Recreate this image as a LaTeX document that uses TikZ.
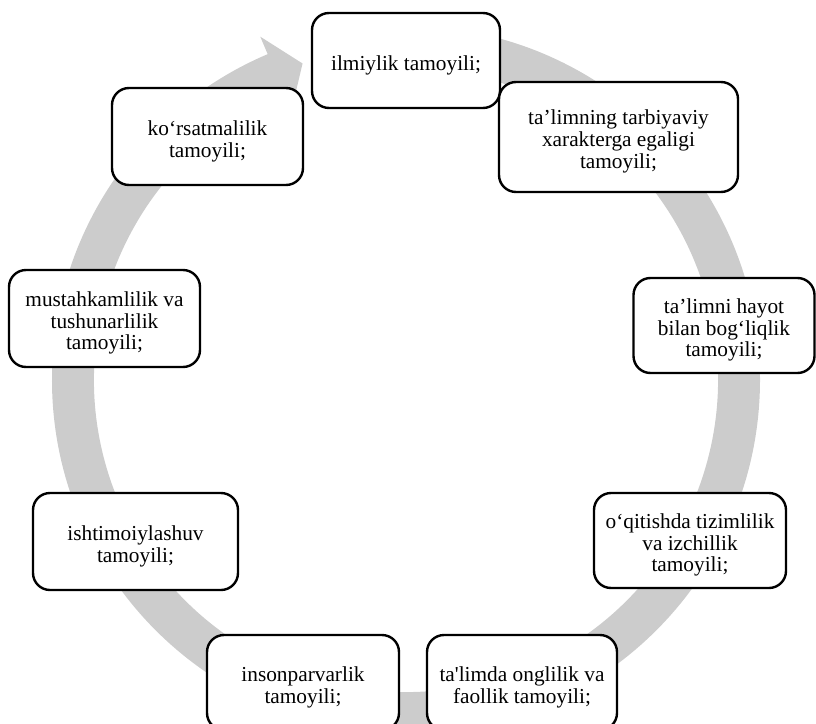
\documentclass[tikz,border=0pt]{standalone}
\usepackage{fontspec}
\setmainfont{Liberation Serif}[Ligatures=TeXOff]
\usetikzlibrary{calc}
\definecolor{ringgray}{RGB}{204,204,204}
\newcommand{\toppad}{\rule{0pt}{24bp}}
\tikzset{
  box/.style={draw=black, line width=2.4bp, fill=white, rounded corners=17bp,
    align=center, inner sep=0pt, minimum height=95bp,
    font=\fontsize{21.4}{21.8}\selectfont},
}
\begin{document}
\begin{tikzpicture}[x=1bp,y=-1bp]
\useasboundingbox (0,0) rectangle (816,724);
\coordinate (C) at (406,380);
% circular arrow
\fill[ringgray] ($(C)+(-88:354)$) arc[start angle=-88, end angle=247, radius=354]
  -- ($(C)+(247:373)$) -- ($(C)+(251.9:333)$) -- ($(C)+(247:293)$)
  -- ($(C)+(247:312)$) arc[start angle=247, end angle=-88, radius=312] -- cycle;
% boxes
\node[box, minimum width=188bp] (n1) at (406,60.5) {\toppad ilmiylik tamoyili;};
\node[box, minimum width=239bp, minimum height=110bp] (n2) at (618.5,137) {\toppad ta’limning tarbiyaviy\\xarakterga egaligi\\tamoyili;};
\node[box, minimum width=181bp] (n3) at (724,325.5) {\toppad ta’limni hayot\\bilan bog‘liqlik\\tamoyili;};
\node[box, minimum width=192bp] (n4) at (690,540.5) {\toppad o‘qitishda tizimlilik\\va izchillik\\tamoyili;};
\node[box, minimum width=190bp] (n5) at (522,682.5) {\toppad ta'limda onglilik va\\faollik tamoyili;};
\node[box, minimum width=192bp] (n6) at (303,682.5) {\toppad insonparvarlik\\tamoyili;};
\node[box, minimum width=205bp, minimum height=97bp] (n7) at (135.5,541.5) {\toppad ishtimoiylashuv\\tamoyili;};
\node[box, minimum width=191bp, minimum height=97bp] (n8) at (104.5,318.5) {\toppad mustahkamlilik va\\tushunarlilik\\tamoyili;};
\node[box, minimum width=191bp, minimum height=97bp] (n9) at (207.5,136.5) {\toppad ko‘rsatmalilik\\tamoyili;};
\end{tikzpicture}
\end{document}
